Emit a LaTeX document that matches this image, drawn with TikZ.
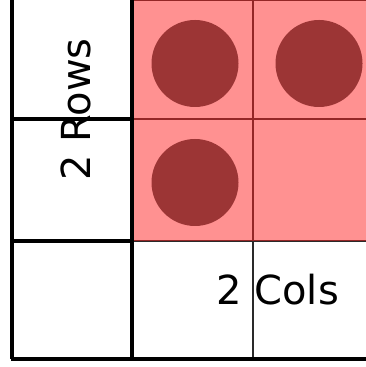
\documentclass[tikz,border=0pt]{standalone}
\usepackage{fontspec}
\setmainfont{DejaVu Sans}
\usetikzlibrary{positioning}
\definecolor{gridline}{HTML}{2A2A2A}
\definecolor{hilite}{HTML}{FF2323}
\definecolor{dot}{HTML}{9C3535}
\tikzset{
  thinline/.style={
    draw=gridline,
    line width=1pt,
  },
  thickline/.style={
    draw=black,
    line width=1.6pt,
  },
  region/.style={
    fill=hilite,
    fill opacity=0.5,
  },
  marker/.style={
    circle,
    fill=dot,
    minimum size=43.5pt,
    inner sep=0pt,
  },
  axislabel/.style={
    font=\fontsize{20}{24}\selectfont,
    inner sep=0pt,
  },
}

\begin{document}
\begin{tikzpicture}[x=0.5pt, y=0.5pt]

\useasboundingbox (0,0) rectangle (365,367);

% === thin inner grid ===
\draw[thinline] (253,8) -- (253,367);
\draw[thinline] (132,248) -- (374,248);
\draw[thinline] (132,126) -- (374,126);
\draw[thinline] (132,366.5) -- (374,366.5);

% === selected block ===
\fill[region] (133,126) rectangle (374,369);

% === header borders ===
\draw[thickline] (12,8) -- (12,369);
\draw[thickline] (132,8) -- (132,369);
\draw[thickline] (12,248) -- (132,248);
\draw[thickline] (12,126) -- (132,126);
\draw[thickline] (11.2,8) -- (374,8);

% === filled cells ===
\node[marker] (dotA) at (195,303.5) {};
\node[marker] (dotB) at (319,303.5) {};
\node[marker] (dotC) at (195,184.5) {};

% === labels ===
\node[axislabel, rotate=90, anchor=base west] (rows) at (90,186) {2 Rows};
\node[axislabel, anchor=base west] (cols) at (216,62) {2 Cols};

\end{tikzpicture}
\end{document}
